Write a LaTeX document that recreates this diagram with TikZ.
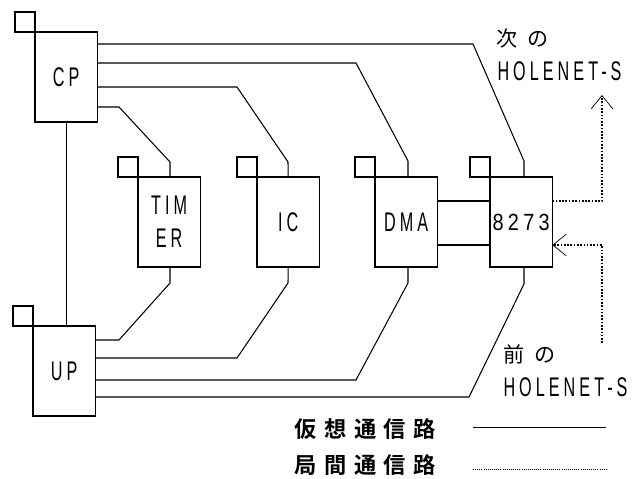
\documentclass[tikz,border=0pt]{standalone}
\usepackage{fontspec}
\usepackage{xcolor}
\newfontfamily\latfont[FakeStretch=0.6,LetterSpace=15]{Liberation Sans}
\newfontfamily\digfont[FakeStretch=0.85,LetterSpace=18]{Liberation Sans}
\newfontfamily\jpfont[LetterSpace=45]{Noto Sans CJK JP}
\newfontfamily\jpbold[LetterSpace=34]{Noto Sans CJK JP Bold}
\usetikzlibrary{arrows.meta, positioning}

\begin{document}
\begin{tikzpicture}[x=0.03cm, y=-0.03cm, line width=0.9pt,
  unit/.style={draw, inner sep=0pt, outer sep=0pt, minimum width=1.87cm, minimum height=2.7cm,
               anchor=north west, align=center, font=\latfont\fontsize{23}{28}\selectfont},
  tab/.style={draw, inner sep=0pt, outer sep=0pt, minimum size=0.6cm, anchor=south east},
  link/.style={line width=0.9pt, dash pattern=on 1.4pt off 1.4pt},
  linktip/.style={-{Straight Barb[length=4mm, width=6.5mm, line width=0.6pt]}},
  net/.style={anchor=north west, inner sep=0pt, font=\latfont\fontsize{23}{26}\selectfont},
  kana/.style={anchor=north west, inner sep=0pt, font=\jpfont\fontsize{18}{20}\selectfont},
  legend/.style={anchor=north west, inner sep=0pt, font=\jpbold\fontsize{19}{22}\selectfont}]

\useasboundingbox (0,0) rectangle (639,479);

% === Units ===
\node[unit] (cp) at (35,32) {CP};
\node[unit] (timer) at (138,177) {TIM\\ER};
\node[unit] (ic) at (257,177) {IC};
\node[unit] (dma) at (375,177) {DMA};
\node[unit, font=\digfont\fontsize{20}{22}\selectfont] (p8273) at (490,177) {8273};
\node[unit] (up) at (33,326) {UP};

% === Corner tabs ===
\foreach \u in {cp, timer, ic, dma, p8273, up}
  \node[tab] (\u-tab) at (\u.north west) {};

% === CP to units ===
\draw (cp.east |- 0,44) -- (473,44) -- (524,161) -- (p8273.north -| 524,0);
\draw (cp.east |- 0,63) -- (356,63) -- (408,161) -- (dma.north -| 408,0);
\draw (cp.east |- 0,87) -- (237,87) -- (288,162) -- (ic.north);
\draw (cp.east |- 0,107) -- (119,107) -- (170,162) -- (timer.north -| 170,0);
\draw (cp.south) -- (cp.south |- up.north);

% === Units to UP ===
\draw (timer.south -| 170,0) -- (170,283) -- (119,340) -- (up.east |- 0,340);
\draw (ic.south) -- (288,283) -- (237,358) -- (up.east |- 0,358);
\draw (dma.south -| 408,0) -- (408,283) -- (356,380) -- (up.east |- 0,380);
\draw (p8273.south -| 524,0) -- (524,284) -- (469,397) -- (up.east |- 0,397);

% === DMA -- 8273 ===
\draw (dma.east |- 0,201) -- (p8273.west |- 0,201);
\draw (dma.east |- 0,245) -- (p8273.west |- 0,245);

% === Inter-station links ===
\coordinate (nexthole) at (602,95);
\coordinate (prevhole) at (602,343);
\draw[link, linktip] (p8273.east |- 0,201) -- (nexthole |- 0,201) -- (nexthole);
\draw[link, linktip] (prevhole) -- (prevhole |- 0,245) -- (p8273.east |- 0,245);

% === Labels ===
\node[kana] (nextlbl) at (496,28) {次の};
\node[net] (nextnet) at (497,61) {HOLENET-S};
\node[kana] (prevlbl) at (503,344) {前の};
\node[net] (prevnet) at (503,377) {HOLENET-S};

% === Legend ===
\node[legend] (virt) at (294,418) {仮想通信路};
\node[legend] (inter) at (294,454) {局間通信路};
\coordinate (virtA) at (473,427);
\coordinate (virtB) at (606,427);
\coordinate (interA) at (473,469);
\coordinate (interB) at (606,469);
\draw[line width=0.8pt] (virtA) -- (virtB);
\draw[line width=0.8pt, dash pattern=on 0.8pt off 1pt] (interA) -- (interB);

\end{tikzpicture}
\end{document}
